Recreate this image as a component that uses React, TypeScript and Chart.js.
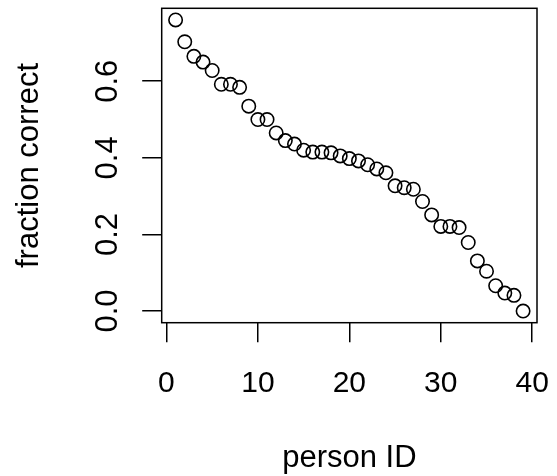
import { useEffect, useRef } from "react";
import { Chart, registerables } from "chart.js";

Chart.register(...registerables);

const personIds = [
  1, 2, 3, 4, 5, 6, 7, 8, 9, 10, 11, 12, 13, 14, 15, 16, 17, 18, 19, 20,
  21, 22, 23, 24, 25, 26, 27, 28, 29, 30, 31, 32, 33, 34, 35, 36, 37, 38, 39,
];
const fractionCorrect = [
  0.76, 0.703, 0.665, 0.65, 0.628, 0.592, 0.592, 0.584, 0.535, 0.5,
  0.5, 0.465, 0.445, 0.436, 0.42, 0.415, 0.415, 0.413, 0.405, 0.398,
  0.392, 0.382, 0.371, 0.361, 0.327, 0.322, 0.318, 0.286, 0.251, 0.221,
  0.221, 0.218, 0.179, 0.131, 0.104, 0.066, 0.047, 0.041, 0.0,
];
const xTicks = [0, 10, 20, 30, 40];
const xTickLabels = ["0", "10", "20", "30", "40"];
const yTicks = [0, 0.2, 0.4, 0.6];
const yTickLabels = ["0.0", "0.2", "0.4", "0.6"];
const xTitle = "person ID";
const yTitle = "fraction correct";

const FONT = '"Liberation Sans", Arial, Helvetica, sans-serif';

const rAxesPlugin = {
  id: "rAxes",
  afterDraw(chart: any) {
    const ctx = chart.ctx;
    const { left, top, right, bottom } = chart.chartArea;
    const xs = chart.scales.x;
    const ys = chart.scales.y;
    ctx.save();
    ctx.strokeStyle = "#000";
    ctx.lineWidth = 1.5;
    ctx.strokeRect(left, top, right - left, bottom - top);
    ctx.fillStyle = "#000";
    ctx.textAlign = "center";
    ctx.textBaseline = "alphabetic";
    ctx.font = `30px ${FONT}`;
    xTicks.forEach((v, i) => {
      ctx.fillText(xTickLabels[i], xs.getPixelForValue(v), bottom + 69);
    });
    ctx.font = `31px ${FONT}`;
    ctx.fillText(xTitle, (left + right) / 2, bottom + 144);
    ctx.font = `31px ${FONT}`;
    yTicks.forEach((v, i) => {
      ctx.save();
      ctx.translate(left - 44.7, ys.getPixelForValue(v));
      ctx.rotate(-Math.PI / 2);
      ctx.fillText(yTickLabels[i], 0, 0);
      ctx.restore();
    });
    ctx.save();
    ctx.translate(38.3, (top + bottom) / 2);
    ctx.rotate(-Math.PI / 2);
    ctx.fillText(yTitle, 0, 0);
    ctx.restore();
    ctx.restore();
  },
};

export default function App() {
  const canvasRef = useRef<HTMLCanvasElement | null>(null);

  useEffect(() => {
    document.body.style.margin = "0";
    const canvas = canvasRef.current;
    if (!canvas) return;
    const data = personIds.map((x, i) => ({ x, y: fractionCorrect[i] }));
    const chart = new Chart(canvas, {
      type: "scatter",
      data: {
        datasets: [
          {
            data,
            pointRadius: 6.7,
            pointHoverRadius: 6.7,
            pointBorderWidth: 1.6,
            borderColor: "#000",
            backgroundColor: "rgba(0,0,0,0)",
            pointBackgroundColor: "rgba(0,0,0,0)",
            pointBorderColor: "#000",
          },
        ],
      },
      options: {
        animation: false,
        responsive: false,
        maintainAspectRatio: false,
        devicePixelRatio: 1,
        events: [],
        layout: { padding: { left: 0, right: 20, top: 4.3, bottom: 0 } },
        plugins: {
          legend: { display: false },
          tooltip: { enabled: false },
          title: { display: false },
        },
        scales: {
          x: {
            type: "linear",
            min: -0.52,
            max: 40.52,
            afterBuildTicks: (s: any) => {
              s.ticks = xTicks.map((v) => ({ value: v }));
            },
            afterFit: (s: any) => {
              s.height = 476 - 322.7;
            },
            ticks: { display: false },
            grid: {
              display: true,
              drawOnChartArea: false,
              drawTicks: true,
              tickLength: 19.5,
              color: "#000",
              lineWidth: 1.5,
            },
            border: { display: false },
          },
          y: {
            type: "linear",
            min: -0.0304,
            max: 0.7904,
            afterBuildTicks: (s: any) => {
              s.ticks = yTicks.map((v) => ({ value: v }));
            },
            afterFit: (s: any) => {
              s.width = 161.7;
            },
            ticks: { display: false },
            grid: {
              display: true,
              drawOnChartArea: false,
              drawTicks: true,
              tickLength: 19.5,
              color: "#000",
              lineWidth: 1.5,
            },
            border: { display: false },
          },
        },
      },
      plugins: [rAxesPlugin],
    });
    return () => chart.destroy();
  }, []);

  return (
    <canvas
      ref={canvasRef}
      width={557}
      height={476}
      style={{ display: "block", width: 557, height: 476 }}
    />
  );
}
